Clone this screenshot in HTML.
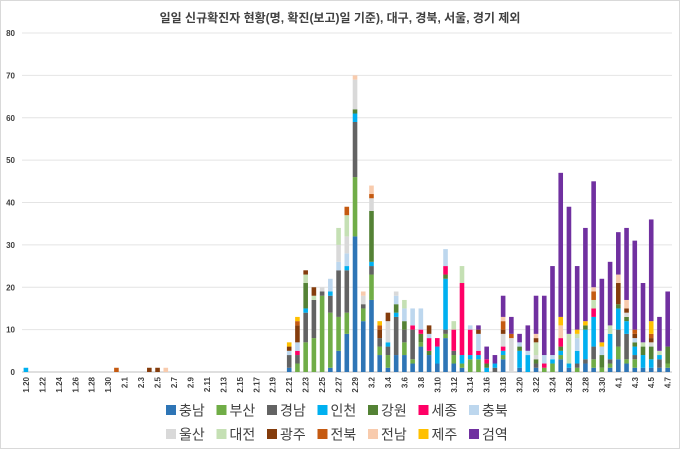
<!DOCTYPE html>
<html><head><meta charset="utf-8">
<style>
html,body{margin:0;padding:0;background:#fff;}
svg{display:block;font-family:"Liberation Sans","Noto Sans CJK KR",sans-serif;}
</style></head>
<body>
<svg id="chart" width="680" height="449" viewBox="0 0 680 449" xmlns="http://www.w3.org/2000/svg">
<rect x="0.5" y="0.5" width="679" height="448" fill="#fff" stroke="#d9d9d9"/>
<text x="340" y="22" text-anchor="middle" font-size="12" font-weight="bold" fill="#404040">일일 신규확진자 현황(명, 확진(보고)일 기준), 대구, 경북, 서울, 경기 제외</text>
<g id="grid"></g>
<g id="yaxis"></g>
<g id="bars"></g>
<g id="xaxis"></g>
<g id="legend"></g>
</svg>
<script>
const dates = ["1.20","1.21","1.22","1.23","1.24","1.25","1.26","1.27","1.28","1.29","1.30","1.31",
"2.1","2.2","2.3","2.4","2.5","2.6","2.7","2.8","2.9","2.10","2.11","2.12","2.13","2.14","2.15","2.16","2.17","2.18","2.19","2.20","2.21","2.22","2.23","2.24","2.25","2.26","2.27","2.28","2.29",
"3.1","3.2","3.3","3.4","3.5","3.6","3.7","3.8","3.9","3.10","3.11","3.12","3.13","3.14","3.15","3.16","3.17","3.18","3.19","3.20","3.21","3.22","3.23","3.24","3.25","3.26","3.27","3.28","3.29","3.30","3.31",
"4.1","4.2","4.3","4.4","4.5","4.6","4.7"];
const yTicks = [0,10,20,30,40,50,60,70,80];
const seriesNames = ["충남","부산","경남","인천","강원","세종","충북","울산","대전","광주","전북","전남","제주","검역"];
const seriesColors = ["#2e75b6","#70ad47","#636363","#00b0f0","#548235","#ff0066","#bdd7ee","#d9d9d9","#c5e0b4","#843c0c","#c55a11","#f8cbad","#ffc000","#7030a0"];
// 32 entries (1.20–2.20) followed by 47 entries (2.21–4.7)
const chungnam = [0,0,0,0,0,0,0,0,0,0,0,0,0,0,0,0,0,0,0,0,0,0,0,0,0,0,0,0,0,0,0,0,
1,0,0,0,0,1,5,9,32,12, 17,4,1,4,4,2,6,4,2,8, 2,1,0,0,0,0,3,0,1,0, 1,0,0,3,1,0,2,1,0,1, 3,2,1,1,1,1,1];
const busan = [0,0,0,0,0,0,0,0,0,0,0,0,0,0,0,0,0,0,0,0,0,0,0,0,0,0,0,0,0,0,0,0,
0,2,7,8,18,13,8,5,14,3, 6,2,3,0,3,1,1,0,0,1, 2,1,3,3,0,0,1,0,0,0, 0,1,2,1,0,1,0,2,1,1, 3,1,2,0,0,0,1];
const gyeongnam = [0,0,0,0,0,0,0,0,0,0,0,0,0,0,0,0,0,0,0,0,0,0,0,0,0,0,0,0,0,0,0,0,
3,2,7,9,1,4,11,10,13,1, 2,2,2,9,3,7,0,0,0,1, 1,0,0,0,0,1,0,0,0,0, 1,0,0,0,0,1,1,3,0,1, 4,6,1,0,0,2,0];
const incheon = [1,0,0,0,0,0,0,0,0,0,0,0,0,0,0,0,0,0,0,0,0,0,0,0,0,0,0,0,0,0,0,0,
0,0,1,0,0,1,0,1,2,0, 1,0,1,1,0,0,0,0,4,12, 0,2,1,1,1,1,1,0,4,4, 0,0,1,1,1,3,7,7,0,6, 5,3,2,3,2,1,0];
const gangwon = [0,0,0,0,0,0,0,0,0,0,0,0,0,0,0,0,0,0,0,0,0,0,0,0,0,0,0,0,0,0,0,0,
0,0,6,0,0,0,0,0,1,0, 12,0,0,2,2,0,2,1,0,1, 0,0,0,0,1,0,0,0,1,0, 1,0,0,1,0,0,1,0,3,0, 1,1,1,2,3,0,4];
const sejong = [0,0,0,0,0,0,0,0,0,0,0,0,0,0,0,0,0,0,0,0,0,0,0,0,0,0,0,0,0,0,0,0,
0,1,0,0,0,0,0,0,0,0, 0,0,0,0,0,1,1,3,2,2, 5,17,6,1,1,0,1,0,0,0, 0,1,0,2,0,0,0,2,0,0, 0,0,0,0,0,0,0];
const chungbuk = [0,0,0,0,0,0,0,0,0,0,0,0,0,0,0,0,0,0,0,0,0,0,0,0,0,0,0,0,0,0,0,0,
1,2,0,0,0,3,2,3,0,0, 0,0,0,2,3,4,5,1,0,4, 0,0,1,4,0,0,0,0,1,1, 0,2,1,0,0,3,0,0,2,0, 0,0,1,0,0,0,0];
const ulsan = [0,0,0,0,0,0,0,0,0,0,0,0,0,0,0,0,0,0,0,0,0,0,0,0,0,0,0,0,0,0,0,0,
0,0,0,0,1,0,4,4,7,2, 3,0,5,1,0,0,0,0,0,0, 0,0,0,0,0,0,3,8,0,0, 1,0,0,0,0,0,0,0,0,0, 0,1,0,0,1,0,0];
const daejeon = [0,0,0,0,0,0,0,0,0,0,0,0,0,0,0,0,0,0,0,0,0,0,0,0,0,0,0,0,0,0,0,0,
0,0,2,1,0,0,4,5,0,0, 0,0,0,0,2,0,0,0,0,0, 2,4,0,0,0,0,0,0,0,0, 3,0,0,0,7,1,0,2,0,2, 0,0,0,1,0,1,0];
const gwangju = [0,0,0,0,0,0,0,0,0,0,0,0,0,0,0,1,1,0,0,0,0,0,0,0,0,0,0,0,0,0,0,0,
1,4,1,2,0,0,0,0,0,0, 0,2,2,0,0,0,0,2,0,0, 0,0,0,1,0,0,1,0,0,0, 1,0,0,0,0,0,0,0,0,0, 5,1,1,0,1,0,0];
const jeonbuk = [0,0,0,0,0,0,0,0,0,0,0,1,0,0,0,0,0,0,0,0,0,0,0,0,0,0,0,0,0,0,0,0,
0,1,0,0,0,0,0,2,0,0, 1,1,0,0,0,0,0,0,0,0, 0,0,0,0,0,0,2,1,0,0, 0,0,0,0,0,0,0,2,0,0, 0,0,1,0,1,0,0];
const jeonnam = [0,0,0,0,0,0,0,0,0,0,0,0,0,0,0,0,0,1,0,0,0,0,0,0,0,0,0,0,0,0,0,0,
0,0,0,0,0,0,0,0,1,1, 2,0,0,0,0,0,0,0,0,0, 0,0,0,0,0,0,1,0,0,0, 1,0,0,3,0,0,0,1,0,0, 2,2,0,0,0,0,0];
const jeju = [0,0,0,0,0,0,0,0,0,0,0,0,0,0,0,0,0,0,0,0,0,0,0,0,0,0,0,0,0,0,0,0,
1,1,0,0,0,0,0,0,0,0, 0,1,0,0,0,0,0,0,0,0, 0,0,0,0,0,0,0,0,0,0, 0,0,0,2,0,1,1,0,1,0, 0,0,0,0,3,0,0];
const quarantine = [0,0,0,0,0,0,0,0,0,0,0,0,0,0,0,0,0,0,0,0,0,0,0,0,0,0,0,0,0,0,0,0,
0,0,0,0,0,0,0,0,0,0, 0,0,0,0,0,0,0,0,0,0, 0,0,0,1,3,2,5,4,2,6, 9,14,21,34,30,15,22,25,15,15, 10,17,21,14,24,8,13];
const seriesData = [chungnam,busan,gyeongnam,incheon,gangwon,sejong,chungbuk,ulsan,daejeon,gwangju,jeonbuk,jeonnam,jeju,quarantine];
const seriesKeys = ["chungnam","busan","gyeongnam","incheon","gangwon","sejong","chungbuk","ulsan","daejeon","gwangju","jeonbuk","jeonnam","jeju","quarantine"];

const NS = "http://www.w3.org/2000/svg";
const plotL = 22, plotR = 672, plotT = 33, plotB = 372, yMax = 80;
const step = (plotR - plotL) / dates.length;
function xPos(i){ return plotL + step * (i + 0.5) - 0.2; }
function yPos(v){ return plotB - (v / yMax) * (plotB - plotT); }
function mk(tag, attrs, parent){ const e = document.createElementNS(NS, tag); for (const k in attrs) e.setAttribute(k, attrs[k]); parent.appendChild(e); return e; }

const grid = document.getElementById('grid'), yaxis = document.getElementById('yaxis');
yTicks.forEach(t => {
  const l = mk('line', {x1: plotL, x2: plotR, y1: yPos(t), y2: yPos(t), stroke: t === 0 ? '#bfbfbf' : '#e4e4e4', 'stroke-width': 1}, grid);
  
  
  const tx = mk('text', {x: 15, y: yPos(t) + 3, 'text-anchor': 'end', 'font-size': 8, 'font-weight': 'bold', fill: '#404040'}, yaxis);
  tx.textContent = t;
  
  
});

const bars = document.getElementById('bars');
const bw = 4.6;
dates.forEach((d, i) => {
  let acc = 0;
  seriesData.forEach((arr, s) => {
    const v = arr[i];
    if (!v) return;
    const y0 = yPos(acc), y1 = yPos(acc + v);
    const r = mk('rect', {x: xPos(i) - bw / 2, y: y1, width: bw, height: y0 - y1, fill: seriesColors[s]}, bars);
    
    
    acc += v;
  });
});

const xaxis = document.getElementById('xaxis');
dates.forEach((d, i) => {
  if (i % 2 !== 0) return;
  const x = xPos(i) + 3, y = 377;
  const t = mk('text', {x: x, y: y, 'text-anchor': 'end', 'font-size': 8, 'font-weight': 'bold', fill: '#404040', transform: 'rotate(-90 ' + x + ' ' + y + ')'}, xaxis);
  t.textContent = d;
  
  
});

const legend = document.getElementById('legend');
const rows = [[0,1,2,3,4,5,6],[7,8,9,10,11,12,13]];
const rowY = [410, 434];
const itemW = 50.5;
rows.forEach((row, r) => {
  const startX = 166;
  row.forEach((s, j) => {
    const x = startX + j * itemW;
    const g = mk('g', {}, legend);
    
    
    mk('rect', {x: x, y: rowY[r] - 5, width: 10, height: 10, fill: seriesColors[s]}, g);
    const t = mk('text', {x: x + 13, y: rowY[r] + 5.5, 'font-size': 14, fill: '#404040'}, g);
    t.textContent = seriesNames[s];
  });
});
</script>
</body></html>
